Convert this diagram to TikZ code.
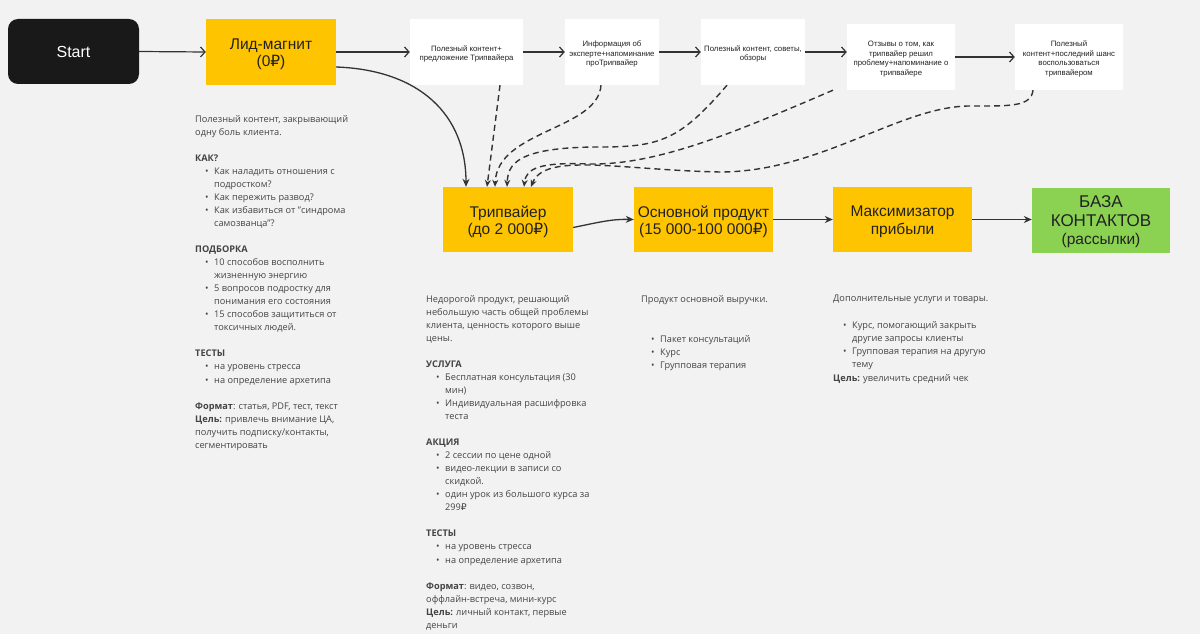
\documentclass[tikz,border=0pt]{standalone}
\usepackage{fontspec}
\setmainfont{Open Sans}
\newfontfamily\arialf{Liberation Sans}
\newfontfamily\dvs{DejaVu Sans}
\usetikzlibrary{arrows.meta}
\newcommand{\rub}{{\dvs ₽}}
\newcommand{\bl}[1]{\hspace*{10pt}\makebox[9pt][l]{•}#1}
\newcommand{\cl}[1]{\hspace*{19pt}#1}
\definecolor{bgc}{HTML}{F2F2F2}
\definecolor{ylw}{HTML}{FFC400}
\definecolor{grn}{HTML}{8BD152}
\definecolor{lnc}{HTML}{333333}
\definecolor{txc}{HTML}{444444}
\definecolor{bxt}{HTML}{222222}
\begin{document}
\begin{tikzpicture}[x=1pt,y=-1pt,
  startbox/.style={fill=black!90, rounded corners=10pt, text=white, font=\arialf\fontsize{16}{18}\selectfont, inner sep=0},
  ybox/.style={fill=ylw, inner sep=0},
  gbox/.style={fill=grn, inner sep=0},
  wbox/.style={fill=white, inner sep=0},
  ytext/.style={text=bxt, align=center, font=\arialf\fontsize{15.5}{17.5}\selectfont, inner sep=0},
  gtext/.style={text=bxt, align=center, font=\arialf\fontsize{17}{18.5}\selectfont, inner sep=0},
  wtext/.style={text=bxt, align=center, font=\arialf\fontsize{7.8}{9.5}\selectfont, inner sep=0},
  desc/.style={text=txc, align=left, font=\fontsize{9.2}{13.05}\selectfont, inner sep=0, anchor=north west},
  toparr/.style={draw=lnc, line width=1.2pt, -{Straight Barb[length=4.5pt,width=10pt]}},
  botarr/.style={draw=lnc, line width=1.3pt, -{Stealth[length=8pt,width=7pt]}},
  dsh/.style={draw=lnc, line width=1.4pt, dash pattern=on 6pt off 4pt, -{Stealth[length=7pt,width=6pt]}}
]
\fill[bgc] (0,0) rectangle (1200,634);
\useasboundingbox (0,0) rectangle (1200,634);

% top row
\node[startbox, minimum width=131pt, minimum height=65pt] (start) at (73.5,51.5) {Start};
\node[ybox, minimum width=130pt, minimum height=66pt] (lid) at (271,52) {};
\node[ytext] (lidt) at ([yshift=-2.5pt]lid.center) {Лид-магнит\\(0\rub)};
\node[wbox, minimum width=113pt, minimum height=66pt] (b1) at (466.5,52) {};
\node[wtext] (b1t) at ([yshift=-2pt]b1.center) {Полезный контент+\\предложение Трипвайера};
\node[wbox, minimum width=94pt, minimum height=66pt] (b2) at (612,52) {};
\node[wtext] (b2t) at ([yshift=-2pt]b2.center) {Информация об\\эксперте+напоминание\\проТрипвайер};
\node[wbox, minimum width=104pt, minimum height=66pt] (b3) at (753,52) {};
\node[wtext] (b3t) at ([yshift=-2pt]b3.center) {Полезный контент, советы,\\обзоры};
\node[wbox, minimum width=108pt, minimum height=66pt] (b4) at (901,57) {};
\node[wtext] (b4t) at ([yshift=-2pt]b4.center) {Отзывы о том, как\\трипвайер решил\\проблему+напоминание о\\трипвайере};
\node[wbox, minimum width=108pt, minimum height=66pt] (b5) at (1069,57) {};
\node[wtext] (b5t) at ([yshift=-2pt]b5.center) {Полезный\\контент+последний шанс\\воспользоваться\\трипвайером};

% second row
\node[ybox, minimum width=130pt, minimum height=65pt] (trip) at (508,219.5) {};
\node[ytext] (tript) at ([yshift=-2.5pt]trip.center) {Трипвайер\\(до 2 000\rub)};
\node[ybox, minimum width=139pt, minimum height=65pt] (osn) at (703.5,219.5) {};
\node[ytext] (osnt) at ([yshift=-2.5pt]osn.center) {Основной продукт\\(15 000-100 000\rub)};
\node[ybox, minimum width=139pt, minimum height=65pt] (max) at (902.5,219.5) {};
\node[ytext] (maxt) at ([yshift=-2.5pt]max.center) {Максимизатор\\прибыли};
\node[gbox, minimum width=138pt, minimum height=65pt] (baza) at (1101,220) {};
\node[gtext] (bazat) at ([yshift=-2pt]baza.center) {БАЗА\\КОНТАКТОВ\\{\fontsize{15.5}{17}\selectfont(рассылки)}};

% top arrows
\draw[toparr] (start.east) -- (lid.west);
\draw[toparr] (lid.east) -- (b1.west);
\draw[toparr] (b1.east) -- (b2.west);
\draw[toparr] (b2.east) -- (b3.west);
\draw[toparr] (b3.east) -- (b3.east -| b4.west);
\draw[toparr] (b4.east) -- (b5.west);

% lid -> trip
\draw[botarr] ([yshift=-15pt]lid.east) .. controls (420,70) and (466,115) .. ([xshift=-42pt]trip.north);

% bottom arrows
\draw[botarr] ([yshift=-8pt]trip.east) .. controls (600,222) and (612,219) .. (osn.west);
\draw[botarr] (osn.east) -- (max.west);
\draw[botarr] (max.east) -- (baza.west |- max.east);

% dashed arrows
\draw[dsh] ([xshift=33.5pt]b1.south) -- ([xshift=-21pt]trip.north);
\draw[dsh] ([xshift=-11pt]b2.south) .. controls (598,130) and (497,130) .. ([xshift=-13pt]trip.north);
\draw[dsh] ([xshift=-26pt]b3.south) .. controls (680,140) and (660,147) .. (600,147) .. controls (515,147) and (508,165) .. ([xshift=-1pt]trip.north);
\draw[dsh] ([xshift=-68pt]b4.south) .. controls (740,130) and (660,165) .. (590,164) .. controls (540,162) and (526,168) .. ([xshift=16pt]trip.north);
\draw[dsh] ([xshift=-36pt]b5.south) .. controls (1031,107) and (1010,106) .. (970,106) .. controls (900,106) and (820,172) .. (720,172) .. controls (620,170) and (545,152) .. ([xshift=23pt]trip.north);

% descriptions
\node[desc] (t1) at (195,115) {Полезный контент, закрывающий\\
одну боль клиента.\\[13pt]
\textbf{КАК?}\\
\bl{Как наладить отношения с}\\
\cl{подростком?}\\
\bl{Как пережить развод?}\\
\bl{Как избавиться от "синдрома}\\
\cl{самозванца"?}\\[13pt]
\textbf{ПОДБОРКА}\\
\bl{10 способов восполнить}\\
\cl{жизненную энергию}\\
\bl{5 вопросов подростку для}\\
\cl{понимания его состояния}\\
\bl{15 способов защититься от}\\
\cl{токсичных людей.}\\[13pt]
\textbf{ТЕСТЫ}\\
\bl{на уровень стресса}\\
\bl{на определение архетипа}\\[13pt]
\textbf{Формат}: статья, PDF, тест, текст\\
\textbf{Цель:} привлечь внимание ЦА,\\
получить подписку/контакты,\\
сегментировать};

\node[desc] (t2) at (426,295) {Недорогой продукт, решающий\\
небольшую часть общей проблемы\\
клиента, ценность которого выше\\
цены.\\[13pt]
\textbf{УСЛУГА}\\
\bl{Бесплатная консультация (30}\\
\cl{мин)}\\
\bl{Индивидуальная расшифровка}\\
\cl{теста}\\[13pt]
\textbf{АКЦИЯ}\\
\bl{2 сессии по цене одной}\\
\bl{видео-лекции в записи со}\\
\cl{скидкой.}\\
\bl{один урок из большого курса за}\\
\cl{299\rub}\\[13pt]
\textbf{ТЕСТЫ}\\
\bl{на уровень стресса}\\
\bl{на определение архетипа}\\[13pt]
\textbf{Формат}: видео, созвон,\\
оффлайн-встреча, мини-курс\\
\textbf{Цель:} личный контакт, первые\\
деньги};

\node[desc] (t3) at (641,295) {Продукт основной выручки.\\[27pt]
\bl{Пакет консультаций}\\
\bl{Курс}\\
\bl{Групповая терапия}};

\node[desc] (t4) at (833,295) {Дополнительные услуги и товары.\\[14pt]
\bl{Курс, помогающий закрыть}\\
\cl{другие запросы клиенты}\\
\bl{Групповая терапия на другую}\\
\cl{тему}\\
\textbf{Цель:} увеличить средний чек};
\end{tikzpicture}
\end{document}
